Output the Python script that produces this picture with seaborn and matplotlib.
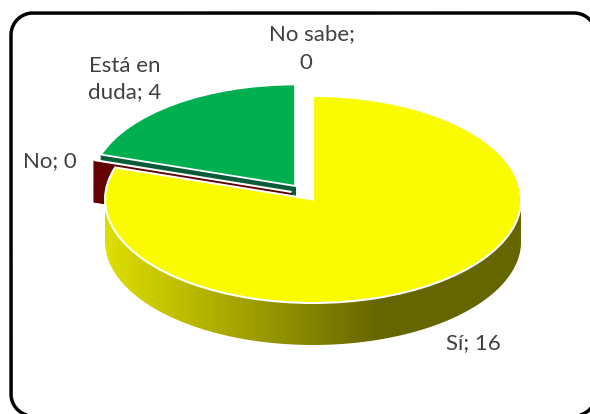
import numpy as np
import matplotlib
matplotlib.use("Agg")
import matplotlib.pyplot as plt
import seaborn as sns
from matplotlib.lines import Line2D
from matplotlib.patches import PathPatch
from matplotlib.path import Path
from matplotlib.colors import LinearSegmentedColormap
from matplotlib.transforms import IdentityTransform

categories = ["Sí", "No", "Está en\nduda", "No sabe"]
values = [16, 0, 4, 0]
top_colors = ["#FBFB00", "#7F0000", "#00B050", "#00B050"]
wall_colors = ["#FBFB00", "#640000", "#0A5C38", "#0A5C38"]

W, H = 590, 414
CX, CY, RX, RY = 313, 199.5, 208, 103.5
DEPTH = 42

sns.set_theme(style="white")
plt.rcParams["font.family"] = ["Lato", "DejaVu Sans"]

fig = plt.figure(figsize=((W + 0.1) / 100, (H + 0.1) / 100), dpi=100, facecolor="white")
ax = fig.add_axes([0, 0, 1, 1])

XL = (-CX / RX, (W - CX) / RX)
YL = ((CY - H) / RY, CY / RY)


def one_slice(i, dx, dy, radius, face, edge, lw, zorder):
    """Draw slice i of the pie, offset by (dx, dy) pixels."""
    colors = ["none"] * len(values)
    colors[i] = face
    wedges, _ = ax.pie(values, colors=colors, startangle=90, counterclock=False,
                       radius=radius, center=(dx / RX, -dy / RY),
                       normalize=True, frame=False,
                       wedgeprops={"linewidth": 0})
    for j, w in enumerate(wedges):
        if j == i:
            w.set_edgecolor(edge)
            w.set_linewidth(lw)
            w.set_zorder(zorder)
        else:
            w.remove()


def wall(i, dx, dy, radius, color, zorder):
    for d in np.arange(DEPTH, 0, -0.5):
        one_slice(i, dx, dy + d, radius, color, color, 0.8, zorder)


# Está en duda: slice pulled out to the upper left
GREEN = (-18, -13.5)
wall(2, *GREEN, 0.98, wall_colors[2], 2)
one_slice(2, *GREEN, 0.98, top_colors[2], "white", 1.3, 3)

# No: zero-sized slice, only its cut face shows
RED = (-21.5, -7.5)
wall(1, *RED, 1.0, wall_colors[1], 4)
one_slice(1, *RED, 1.0, "none", "white", 1.5, 5)

# Sí: gradient side wall, then a mask for its lower edge, then the top
d_data = DEPTH / RY
cmap = LinearSegmentedColormap.from_list(
    "side", [(0, "#DEDE00"), (0.655, "#666600"), (1, "#666600")])
gx = np.linspace(-1, 1, 257)
gy = np.array([-1 - d_data - 0.02, 0.0])
ax.pcolormesh(gx, gy, np.linspace(0, 1, 256)[None, :], cmap=cmap,
              shading="flat", zorder=6, linewidth=0)

t = np.linspace(np.pi, 2 * np.pi, 240)
curve = np.c_[np.cos(t), np.sin(t) - d_data]
mask_v = np.vstack([curve, [[1, -1 - d_data - 0.04], [-1, -1 - d_data - 0.04], curve[0]]])
ax.add_patch(PathPatch(Path(mask_v), transform=ax.transData, fc="white", ec="none", zorder=6.5))
one_slice(0, 0, 0, 1.0, top_colors[0], "white", 1.5, 7)

ax.set_xlim(*XL)
ax.set_ylim(*YL)
ax.set_aspect("auto")
ax.axis("off")

# Data labels
label_text = [f"{categories[0]}; {values[0]}", f"{categories[1]}; {values[1]}",
              f"{categories[2]}; {values[2]}", f"{categories[3]};\n{values[3]}  "]
label_px = [(473, 343), (50, 161), (125, 79), (312, 48.5)]
label_gap = [1.1, 1.1, 1.42, 1.58]
for s, (px, py), gap in zip(label_text, label_px, label_gap):
    ax.text((px - CX) / RX, (CY - py) / RY, s, color="#404040", fontsize=16,
            ha="center", va="center", multialignment="center", linespacing=gap, zorder=10)

# Rounded chart frame, a polyline in pixels measured from the lower left
FL, FR, FB, FT, FRAD = 11, 596, -2, 401, 22
frame_x, frame_y = [], []
for cx, cy, a0 in [(FR - FRAD, FB + FRAD, -90), (FR - FRAD, FT - FRAD, 0),
                   (FL + FRAD, FT - FRAD, 90), (FL + FRAD, FB + FRAD, 180)]:
    a = np.radians(np.linspace(a0, a0 + 90, 40))
    frame_x.extend(cx + FRAD * np.cos(a))
    frame_y.extend(cy + FRAD * np.sin(a))
frame_x.append(frame_x[0])
frame_y.append(frame_y[0])
fig.add_artist(Line2D(frame_x, frame_y, transform=IdentityTransform(),
                      color="black", lw=2.5, zorder=20, solid_joinstyle="round"))

fig.savefig("out.png", dpi=100, facecolor="white")
